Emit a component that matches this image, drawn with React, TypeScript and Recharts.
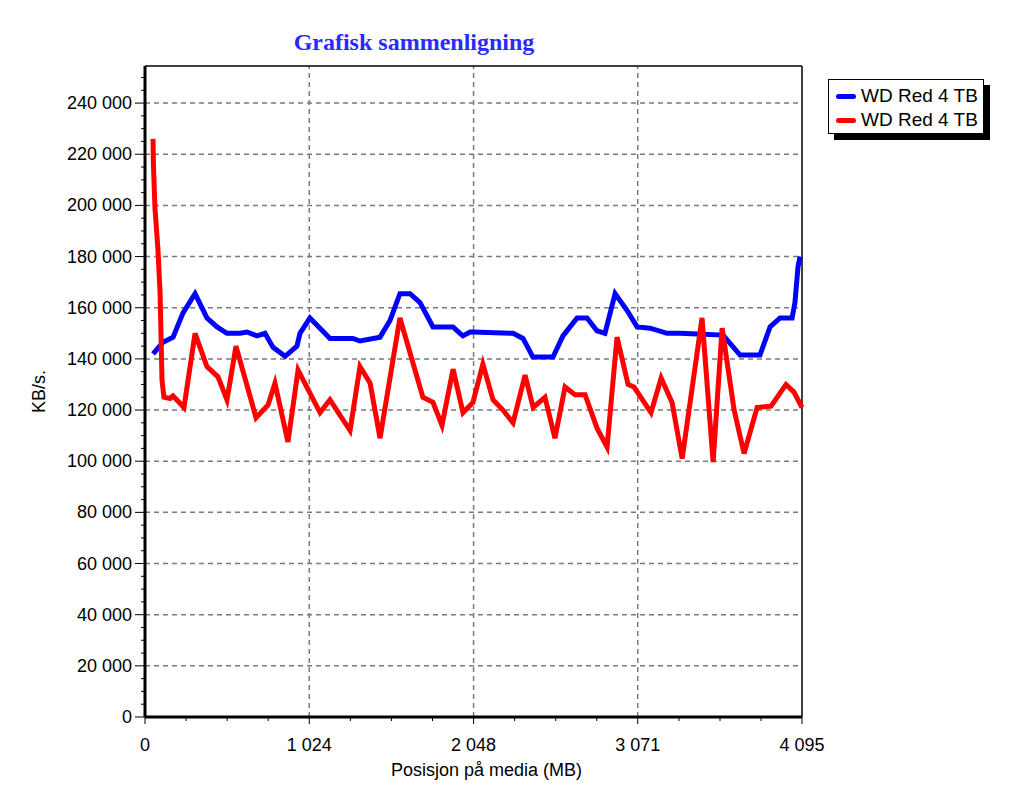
import React from 'react';
import { LineChart, Line, XAxis, YAxis, ReferenceLine, Label, Legend } from 'recharts';

// Posisjon (MB) og KB/s lest av bildet
const blueX = [50, 112, 175, 237, 312, 386, 449, 511, 592, 636, 698, 748, 798, 873, 947, 966, 1028, 1153, 1296, 1340, 1465, 1527, 1589, 1652, 1714, 1795, 1920, 1963, 1982, 2026, 2044, 2294, 2356, 2418, 2543, 2605, 2693, 2755, 2817, 2867, 2930, 3004, 3067, 3148, 3254, 3335, 3441, 3603, 3709, 3833, 3896, 3958, 4033, 4051, 4070, 4083];
const blueY = [142000, 146500, 148500, 158000, 165500, 156000, 152500, 150000, 150000, 150500, 149000, 150000, 144500, 141000, 145000, 150000, 156000, 148000, 148000, 147000, 148500, 155000, 165500, 165500, 162000, 152500, 152500, 150000, 149000, 150500, 150500, 150000, 148000, 140700, 140700, 149000, 156000, 156000, 151000, 150000, 165500, 159000, 152500, 152000, 150000, 150000, 149700, 149300, 141500, 141500, 152500, 156000, 156000, 162000, 176000, 180000];

const redX = [50, 52, 62, 81, 94, 106, 118, 156, 175, 243, 312, 386, 455, 511, 567, 692, 767, 810, 891, 954, 1091, 1153, 1278, 1340, 1403, 1465, 1589, 1732, 1795, 1851, 1920, 1982, 2044, 2106, 2169, 2231, 2294, 2369, 2419, 2493, 2555, 2618, 2680, 2743, 2817, 2880, 2942, 3011, 3048, 3154, 3217, 3285, 3348, 3472, 3541, 3597, 3672, 3734, 3815, 3902, 3995, 4045, 4095];
const redY = [226000, 217000, 199000, 182500, 165700, 131700, 125000, 124500, 125500, 121000, 150000, 137000, 133000, 124000, 145000, 117000, 122000, 130500, 107500, 135600, 119000, 124000, 112000, 137000, 130500, 109000, 156000, 125000, 123000, 114000, 136000, 119000, 123000, 138000, 124000, 120000, 115000, 133700, 121000, 125000, 109000, 129000, 126000, 126000, 113000, 105500, 148500, 130000, 129000, 119000, 132500, 123000, 101000, 156000, 99700, 152000, 120000, 103000, 121000, 121500, 130000, 127000, 121000];

const seriesNames = ['WD Red 4 TB', 'WD Red 4 TB'];
const seriesColors = ['#0000ff', '#ff0000'];

const xTicks = [0, 256, 512, 768, 1024, 1280, 1536, 1792, 2048, 2304, 2560, 2816, 3071, 3328, 3584, 3840, 4095];
const xLabelTicks = [0, 1024, 2048, 3071, 4095];
const xGrid = [1024, 2048, 3071];
const yTicks = [
  0, 5000, 10000, 15000, 20000, 25000, 30000, 35000, 40000, 45000, 50000, 55000, 60000, 65000, 70000, 75000,
  80000, 85000, 90000, 95000, 100000, 105000, 110000, 115000, 120000, 125000, 130000, 135000, 140000, 145000,
  150000, 155000, 160000, 165000, 170000, 175000, 180000, 185000, 190000, 195000, 200000, 205000, 210000,
  215000, 220000, 225000, 230000, 235000, 240000, 245000, 250000,
];
const yGrid = [20000, 40000, 60000, 80000, 100000, 120000, 140000, 160000, 180000, 200000, 220000, 240000];
const yMax = 254500;

const blueData = blueX.map((x, i) => ({ x, v: blueY[i] }));
const redData = redX.map((x, i) => ({ x, v: redY[i] }));

const fmt = (n: number) => String(n).replace(/\B(?=(\d{3})+(?!\d))/g, ' ');
const font = '"Liberation Sans", Arial, sans-serif';

const YTick = (props: any) => {
  const { x, y, payload } = props;
  const major = payload.value % 20000 === 0;
  return (
    <g>
      <line x1={x - (major ? 10 : 4)} x2={x} y1={y} y2={y} stroke="#000" />
      {major && (
        <text x={x - 13} y={y + 6} textAnchor="end" fontSize={18} fontFamily={font} fill="#000">
          {fmt(payload.value)}
        </text>
      )}
    </g>
  );
};

const XTick = (props: any) => {
  const { x, y, payload } = props;
  const major = xLabelTicks.includes(payload.value);
  return (
    <g>
      <line x1={x} x2={x} y1={y} y2={y + (major ? 7 : 4)} stroke="#000" />
      {major && (
        <text x={x} y={y + 34} textAnchor="middle" fontSize={18} fontFamily={font} fill="#000">
          {fmt(payload.value)}
        </text>
      )}
    </g>
  );
};

const LegendBox = () => (
  <div
    style={{
      width: 156,
      height: 55,
      border: '1px solid #000',
      background: '#fff',
      boxShadow: '6px 6px 0 #000',
      fontFamily: font,
      fontSize: 19,
      boxSizing: 'border-box',
      paddingTop: 4,
    }}
  >
    {seriesNames.map((n, i) => (
      <div key={i} style={{ display: 'flex', alignItems: 'center', height: 24 }}>
        <span style={{ display: 'inline-block', width: 20, height: 5, borderRadius: 3, background: seriesColors[i], marginLeft: 7, marginRight: 5 }} />
        <span>{n}</span>
      </div>
    ))}
  </div>
);

export default function App() {
  return (
    <div style={{ position: 'absolute', left: 0, top: 0, width: 1024, height: 812, background: '#fff' }}>
      <div
        style={{
          position: 'absolute',
          left: 0,
          width: 828,
          top: 29,
          textAlign: 'center',
          fontFamily: '"Liberation Serif", "Times New Roman", serif',
          fontWeight: 'bold',
          fontSize: 24,
          color: '#2a2aff',
        }}
      >
        Grafisk sammenligning
      </div>
      <LineChart width={1024} height={812} margin={{ top: 66, right: 222, bottom: 0, left: 0 }}>
        {yGrid.map((v) => (
          <ReferenceLine key={'y' + v} y={v} stroke="#7a7a7a" strokeWidth={1.5} strokeDasharray="5 4" />
        ))}
        {xGrid.map((v) => (
          <ReferenceLine key={'x' + v} x={v} stroke="#7a7a7a" strokeWidth={1.5} strokeDasharray="5 4" />
        ))}
        <ReferenceLine y={yMax} stroke="#000" strokeWidth={1.5} />
        <ReferenceLine x={4095} stroke="#000" strokeWidth={1.5} />
        <XAxis
          dataKey="x"
          type="number"
          domain={[0, 4095]}
          ticks={xTicks}
          interval={0}
          height={95}
          tickSize={0}
          tickMargin={0}
          tickLine={false}
          tick={<XTick />}
          axisLine={{ stroke: '#000', strokeWidth: 3 }}
        >
          <Label
            content={(p: any) => (
              <text
                x={p.viewBox.x + p.viewBox.width / 2 + 13}
                y={p.viewBox.y + 59}
                textAnchor="middle"
                fontSize={18}
                fontFamily={font}
                fill="#000"
              >
                Posisjon på media (MB)
              </text>
            )}
          />
        </XAxis>
        <YAxis
          type="number"
          domain={[0, yMax]}
          ticks={yTicks}
          interval={0}
          width={145}
          tickSize={0}
          tickMargin={0}
          tickLine={false}
          tick={<YTick />}
          axisLine={{ stroke: '#000', strokeWidth: 3 }}
        >
          <Label
            content={(p: any) => {
              const cy = p.viewBox.y + p.viewBox.height / 2;
              return (
                <text
                  x={39}
                  y={cy}
                  transform={`rotate(-90 39 ${cy})`}
                  textAnchor="middle"
                  dominantBaseline="central"
                  fontSize={18}
                  fontFamily={font}
                  fill="#000"
                >
                  KB/s.
                </text>
              );
            }}
          />
        </YAxis>
        <Legend
          layout="horizontal"
          verticalAlign="middle"
          align="center"
          content={() => <LegendBox />}
          wrapperStyle={{ left: 828, top: 79, width: 160 }}
        />
        <Line
          data={blueData}
          dataKey="v"
          name={seriesNames[0]}
          type="linear"
          stroke={seriesColors[0]}
          strokeWidth={5}
          dot={false}
          isAnimationActive={false}
        />
        <Line
          data={redData}
          dataKey="v"
          name={seriesNames[1]}
          type="linear"
          stroke={seriesColors[1]}
          strokeWidth={5}
          dot={false}
          isAnimationActive={false}
        />
      </LineChart>
    </div>
  );
}
